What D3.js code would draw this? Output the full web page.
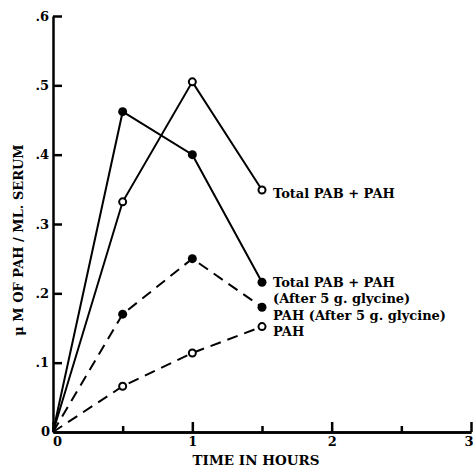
<!DOCTYPE html>
<html lang="en">

<head>
    <meta charset="UTF-8">
    <title>PAH serum levels</title>
    <style>
        body {
            margin: 0;
            background: #fff;
        }

        .chart text {
            font-family: "DejaVu Serif", "Liberation Serif", serif;
            font-weight: bold;
            fill: #000;
        }

        .axis path,
        .axis line {
            fill: none;
            stroke: #000;
            stroke-width: 2.5;
        }

        .series {
            fill: none;
            stroke: #000;
            stroke-width: 2;
        }
    </style>
</head>

<body>
    <svg class="chart"></svg>
    <script src="https://d3js.org/d3.v7.min.js"></script>
    <script>
        // hours after dose
        const hours = [0, 0.5, 1, 1.5];

        // uM of PAH per ml serum
        const totalPabPah = [0, 0.332, 0.505, 0.349];
        const totalAfterGlycine = [0, 0.462, 0.400, 0.216];
        const pahAfterGlycine = [0, 0.170, 0.250, 0.180];
        const pah = [0, 0.066, 0.114, 0.152];

        const xTicks = [0, 1, 2, 3];
        const xMinorTicks = [0.5, 1.5, 2.5];
        const yTicks = [0, 0.1, 0.2, 0.3, 0.4, 0.5, 0.6];

        const seriesNames = ["Total PAB + PAH", "Total PAB + PAH (After 5 g. glycine)",
            "PAH (After 5 g. glycine)", "PAH"];

        let width = 473, height = 469;

        let x = d3.scaleLinear().domain([0, 3]).range([53, 471]);
        let y = d3.scaleLinear().domain([0, 0.6]).range([432, 16]);

        let svg = d3.select(".chart")
            .attr("width", width)
            .attr("height", height);

        // x axis, ticks pointing up into the plot
        svg.append("g")
            .attr("class", "axis axis--x")
            .attr("transform", `translate(0,${y(0)})`)
            .call(d3.axisBottom(x).tickValues(xMinorTicks).tickSize(-6).tickSizeOuter(0).tickFormat(""));

        let xAxis = svg.append("g")
            .attr("class", "axis axis--x")
            .attr("transform", `translate(0,${y(0)})`)
            .call(d3.axisBottom(x).tickValues(xTicks).tickSize(-10).tickSizeOuter(0).tickPadding(5)
                .tickFormat(d3.format("d")));
        xAxis.selectAll("text").style("font-size", "13px");
        xAxis.selectAll(".tick").filter(d => d === 0).select("text").attr("dx", 4);
        xAxis.selectAll(".tick").filter(d => d === 3).select("text").attr("text-anchor", "end").attr("dx", 2);

        let yAxis = svg.append("g")
            .attr("class", "axis axis--y")
            .attr("transform", `translate(${x(0)},0)`)
            .call(d3.axisLeft(y).tickValues(yTicks).tickSize(-9).tickSizeOuter(0).tickPadding(4)
                .tickFormat(d => d === 0 ? "0" : d3.format(".1f")(d).replace("0.", ".")));
        yAxis.selectAll("text").style("font-size", "13px");
        yAxis.selectAll(".tick").filter(d => d === 0).remove();

        svg.append("text")
            .attr("x", x(0) - 3)
            .attr("y", y(0) + 4)
            .attr("text-anchor", "end")
            .style("font-size", "13px")
            .text("0");

        // axis titles
        svg.append("text")
            .attr("x", 256)
            .attr("y", 465)
            .attr("text-anchor", "middle")
            .style("font-size", "13.5px")
            .text("TIME IN HOURS");

        svg.append("text")
            .attr("transform", `translate(23,240) rotate(-90)`)
            .attr("text-anchor", "middle")
            .style("font-size", "13px")
            .text("\u03bc M OF PAH / ML. SERUM");

        let line = d3.line()
            .x(d => x(d[0]))
            .y(d => y(d[1]));

        let series = [
            { values: totalPabPah, dashed: false, filled: false },
            { values: totalAfterGlycine, dashed: false, filled: true },
            { values: pahAfterGlycine, dashed: true, filled: true },
            { values: pah, dashed: true, filled: false }
        ];

        series.forEach(s => {
            let pts = hours.map((h, i) => [h, s.values[i]]);
            svg.append("path")
                .datum(pts)
                .attr("class", "series")
                .attr("stroke-dasharray", s.dashed ? "11,7" : null)
                .attr("d", line);

            svg.selectAll(null)
                .data(pts.slice(1))
                .enter().append("circle")
                .attr("cx", d => x(d[0]))
                .attr("cy", d => y(d[1]))
                .attr("r", s.filled ? 4.5 : 3.5)
                .attr("fill", s.filled ? "#000" : "#fff")
                .attr("stroke", "#000")
                .attr("stroke-width", s.filled ? 0 : 2);
        });

        // labels next to the last points
        let labels = [
            { lines: [seriesNames[0]], y: 198 },
            { lines: ["Total PAB + PAH", "(After 5 g. glycine)"], y: 287 },
            { lines: [seriesNames[2]], y: 320 },
            { lines: [seriesNames[3]], y: 336 }
        ];

        labels.forEach(l => {
            let t = svg.append("text")
                .attr("x", 273)
                .attr("y", l.y)
                .style("font-size", "13px");
            l.lines.forEach((s, i) => {
                t.append("tspan")
                    .attr("x", 273)
                    .attr("dy", i === 0 ? 0 : 16)
                    .text(s);
            });
        });
    </script>
</body>

</html>
